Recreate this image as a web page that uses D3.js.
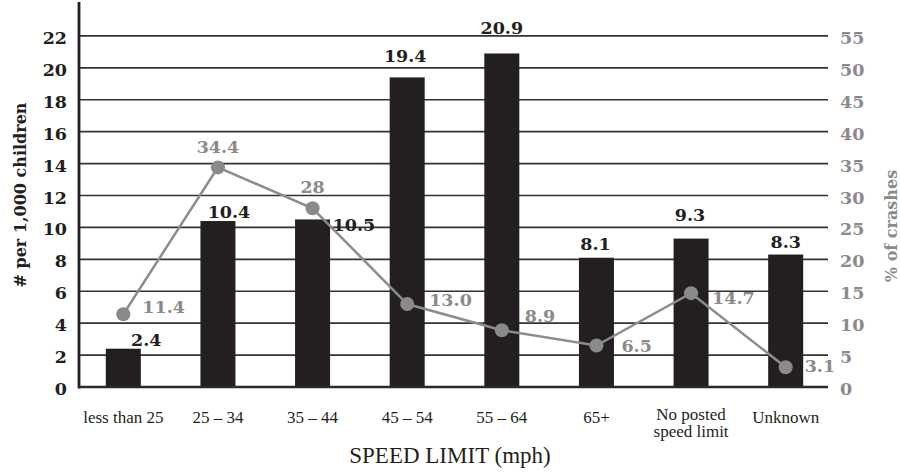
<!DOCTYPE html>
<html>
<head>
<meta charset="utf-8">
<script src="https://cdn.jsdelivr.net/npm/d3@7"></script>
<style>
  body { margin: 0; background: #fff; }
  svg { display: block; }
  .num { font-family: "DejaVu Serif", serif; font-weight: bold; font-size: 17.5px; }
  .cat { font-family: "Liberation Serif", serif; font-size: 17px; fill: #231f20; }
</style>
</head>
<body>
<div id="chart"></div>
<script>
let width = 900, height = 472;

// data
let categories = ["less than 25", "25 – 34", "35 – 44", "45 – 54", "55 – 64", "65+", "No posted speed limit", "Unknown"];
let ratePer1000 = [2.4, 10.4, 10.5, 19.4, 20.9, 8.1, 9.3, 8.3];
let pctCrashes = [11.4, 34.4, 28, 13.0, 8.9, 6.5, 14.7, 3.1];
let pctLabels = ["11.4", "34.4", "28", "13.0", "8.9", "6.5", "14.7", "3.1"];
let leftTicks = [0, 2, 4, 6, 8, 10, 12, 14, 16, 18, 20, 22];
let rightTicks = [0, 5, 10, 15, 20, 25, 30, 35, 40, 45, 50, 55];

// label nudges (layout only): [dx, dy, anchor]
let barLabelNudge = [[23, -3, "middle"], [11, -3, "middle"], [20, 12, "start"], [-2, -15, "middle"],
    [0, -19, "middle"], [-1, -8, "middle"], [-1, -18, "middle"], [0, -7, "middle"]];
let lineLabelNudge = [[19, -1, "start"], [0, -14, "middle"], [0, -15, "middle"], [22, 2, "start"],
    [23, -8, "start"], [25, 6, "start"], [21, 11, "start"], [19, 5, "start"]];

let left = 79, right = 828, bottom = 387;
let dark = "#231f20", grey = "#8a8a8a";

let svg = d3.select("#chart").append("svg")
    .attr("width", width)
    .attr("height", height);

let x = d3.scaleBand()
    .domain(categories)
    .range([76, 833])
    .paddingInner(0.63)
    .paddingOuter(0.315);

let y = d3.scaleLinear().domain([0, 24]).range([bottom, 4]);
let y2 = d3.scaleLinear().domain([0, 60]).range([bottom, 4]);

// gridlines
svg.append("g")
    .selectAll("line")
    .data(leftTicks.filter(d => d > 0))
    .enter().append("line")
    .attr("x1", left).attr("x2", right)
    .attr("y1", d => y(d)).attr("y2", d => y(d))
    .attr("stroke", "#333")
    .attr("stroke-width", 1.7);

// left ticks
svg.append("g")
    .selectAll("text")
    .data(leftTicks)
    .enter().append("text")
    .attr("class", "num")
    .attr("x", 67)
    .attr("y", d => y(d) + 8)
    .attr("text-anchor", "end")
    .attr("fill", dark)
    .text(d => d);

// right ticks
svg.append("g")
    .selectAll("text")
    .data(rightTicks)
    .enter().append("text")
    .attr("class", "num")
    .attr("x", 840)
    .attr("y", d => y2(d) + 8)
    .attr("fill", grey)
    .text(d => d);

// bars
svg.append("g")
    .selectAll("rect")
    .data(ratePer1000)
    .enter().append("rect")
    .attr("x", (d, i) => x(categories[i]))
    .attr("width", x.bandwidth())
    .attr("y", d => y(d))
    .attr("height", d => bottom - y(d))
    .attr("fill", dark);

// axes lines
svg.append("line")
    .attr("x1", left).attr("x2", left)
    .attr("y1", 2).attr("y2", bottom + 1.5)
    .attr("stroke", dark).attr("stroke-width", 2.8);
svg.append("line")
    .attr("x1", left).attr("x2", right)
    .attr("y1", bottom).attr("y2", bottom)
    .attr("stroke", "#2a2a2a").attr("stroke-width", 2.6);

// bar labels
svg.append("g")
    .selectAll("text")
    .data(ratePer1000)
    .enter().append("text")
    .attr("class", "num")
    .attr("fill", dark)
    .attr("text-anchor", (d, i) => barLabelNudge[i][2])
    .attr("x", (d, i) => x(categories[i]) + x.bandwidth() / 2 + barLabelNudge[i][0])
    .attr("y", (d, i) => y(d) + barLabelNudge[i][1])
    .text(d => d.toFixed(1));

// line series
let cx = (d, i) => x(categories[i]) + x.bandwidth() / 2;
let line = d3.line()
    .x(cx)
    .y(d => y2(d));

svg.append("path")
    .datum(pctCrashes)
    .attr("d", line)
    .attr("fill", "none")
    .attr("stroke", "#8c8c8c")
    .attr("stroke-width", 2.5);

svg.append("g")
    .selectAll("circle")
    .data(pctCrashes)
    .enter().append("circle")
    .attr("cx", cx)
    .attr("cy", d => y2(d))
    .attr("r", 7)
    .attr("fill", "#8a8a8a");

svg.append("g")
    .selectAll("text")
    .data(pctCrashes)
    .enter().append("text")
    .attr("class", "num")
    .attr("fill", grey)
    .attr("text-anchor", (d, i) => lineLabelNudge[i][2])
    .attr("x", (d, i) => cx(d, i) + lineLabelNudge[i][0])
    .attr("y", d => y2(d))
    .attr("dy", (d, i) => lineLabelNudge[i][1])
    .text((d, i) => pctLabels[i]);

// category labels
let catText = svg.append("g")
    .selectAll("text")
    .data(categories)
    .enter().append("text")
    .attr("class", "cat")
    .attr("text-anchor", "middle")
    .attr("x", d => x(d) + x.bandwidth() / 2)
    .attr("y", 423);

catText.each(function(d){
    let t = d3.select(this);
    if (d === "No posted speed limit") {
        t.attr("y", 420);
        t.append("tspan").attr("x", x(d) + x.bandwidth() / 2).text("No posted");
        t.append("tspan").attr("x", x(d) + x.bandwidth() / 2).attr("dy", 17).text("speed limit");
    } else {
        t.text(d);
    }
});

// axis titles
svg.append("text")
    .attr("class", "cat")
    .attr("x", 450)
    .attr("y", 463)
    .attr("text-anchor", "middle")
    .style("font-size", "23px")
    .text("SPEED LIMIT (mph)");

svg.append("text")
    .attr("class", "num")
    .attr("transform", "translate(26,195) rotate(-90)")
    .attr("text-anchor", "middle")
    .attr("fill", dark)
    .style("font-size", "16px")
    .text("# per 1,000 children");

svg.append("text")
    .attr("class", "num")
    .attr("transform", "translate(897,226) rotate(-90)")
    .attr("text-anchor", "middle")
    .attr("fill", grey)
    .style("font-size", "16px")
    .text("% of crashes");
</script>
</body>
</html>
